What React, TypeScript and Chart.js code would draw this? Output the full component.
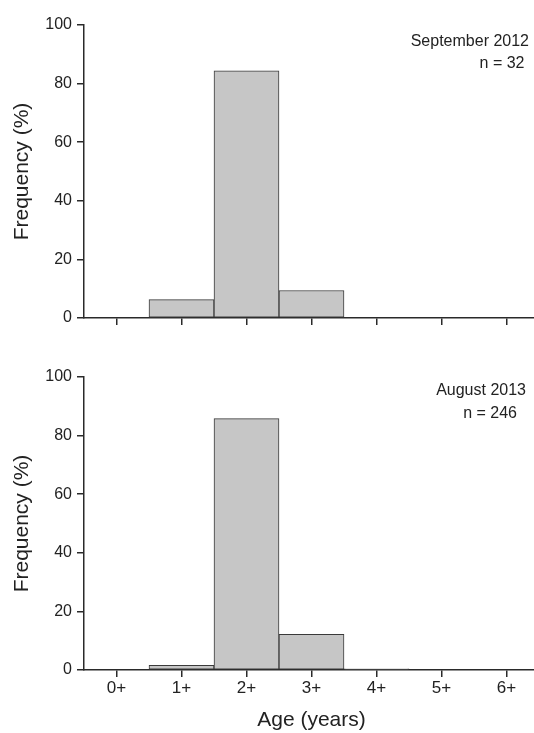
import React, { useEffect, useRef } from 'react';
import { Chart, registerables } from 'chart.js';

Chart.register(...registerables);

// ---------- data ----------
const ageClasses = ['0+', '1+', '2+', '3+', '4+', '5+', '6+'];
const sep2012Freq = [0, 6.25, 84.38, 9.38, 0, 0, 0];
const aug2013Freq = [0, 1.63, 85.77, 12.2, 0.41, 0, 0];
const yTickValues = [0, 20, 40, 60, 80, 100];
const sep2012Note = ['September 2012', 'n = 32'];
const aug2013Note = ['August 2013', 'n = 246'];
const xTitle = 'Age (years)';
const yTitle = 'Frequency (%)';

// ---------- style ----------
const FONT = "'Liberation Sans', Arial, Helvetica, sans-serif";
const TEXT = '#222222';
const AXIS = '#2a2a2a';
const BAR_FILL = '#c6c6c6';
const BAR_EDGE = '#3a3a3a';
const CANVAS_W = 560;

type PanelProps = {
  values: number[];
  note: string[];
  noteX: number[];
  noteY: number[];
  showXLabels: boolean;
  height: number;
  xAxisHeight: number;
  top: number;
};

function Panel({ values, note, noteX, noteY, showXLabels, height, xAxisHeight, top }: PanelProps) {
  const ref = useRef<HTMLCanvasElement | null>(null);

  useEffect(() => {
    if (!ref.current) return;
    const notePlugin = {
      id: 'panelNote',
      afterDraw(chart: any) {
        const ctx = chart.ctx;
        ctx.save();
        ctx.font = `16px ${FONT}`;
        ctx.fillStyle = TEXT;
        ctx.textAlign = 'right';
        ctx.textBaseline = 'middle';
        note.forEach((t, i) => ctx.fillText(t, noteX[i], noteY[i]));
        ctx.restore();
      },
    };

    const chart = new Chart(ref.current, {
      type: 'bar',
      data: {
        datasets: [
          {
            data: values.map((v, i) => ({ x: i, y: v })),
            backgroundColor: BAR_FILL,
            borderColor: BAR_EDGE,
            borderWidth: 1,
            borderSkipped: false,
            barPercentage: 1,
            categoryPercentage: 1,
          } as any,
        ],
      },
      options: {
        responsive: false,
        animation: false,
        events: [],
        layout: { padding: { top: 25, right: CANVAS_W - 539, bottom: 0, left: 0 } },
        plugins: { legend: { display: false }, tooltip: { enabled: false } },
        scales: {
          x: {
            type: 'linear',
            min: -0.5,
            max: 6.5,
            offset: false,
            afterBuildTicks: (s: any) => {
              s.ticks = ageClasses.map((_, i) => ({ value: i }));
            },
            ticks: {
              display: showXLabels,
              autoSkip: false,
              maxRotation: 0,
              padding: 1,
              color: TEXT,
              font: { family: FONT, size: 17 },
              callback: (v: any) => ageClasses[v] ?? '',
            },
            grid: {
              offset: false,
              drawOnChartArea: false,
              drawTicks: true,
              tickLength: 7,
              color: AXIS,
              lineWidth: 1.5,
            },
            border: { display: true, color: AXIS, width: 1.5 },
            title: {
              display: showXLabels,
              text: xTitle,
              color: TEXT,
              font: { family: FONT, size: 21 },
              padding: { top: 0, bottom: 0 },
            },
            afterFit: (s: any) => {
              s.height = xAxisHeight;
            },
          },
          y: {
            min: 0,
            max: 100,
            afterBuildTicks: (s: any) => {
              s.ticks = yTickValues.map((v) => ({ value: v }));
            },
            ticks: {
              padding: 5,
              color: TEXT,
              font: { family: FONT, size: 16 },
            },
            grid: {
              drawOnChartArea: false,
              drawTicks: true,
              tickLength: 7,
              color: AXIS,
              lineWidth: 1.5,
            },
            border: { display: true, color: AXIS, width: 1.5 },
            title: {
              display: true,
              text: yTitle,
              color: TEXT,
              font: { family: FONT, size: 21 },
              padding: { top: 10, bottom: 0 },
            },
            afterFit: (s: any) => {
              s.width = 84;
            },
          },
        },
      } as any,
      plugins: [notePlugin],
    });
    return () => chart.destroy();
  }, []);

  return (
    <canvas
      ref={ref}
      width={CANVAS_W}
      height={height}
      style={{ position: 'absolute', left: 0, top, width: CANVAS_W, height }}
    />
  );
}

export default function App() {
  return (
    <div
      style={{
        position: 'fixed',
        left: 0,
        top: 0,
        width: 534,
        height: 733,
        overflow: 'hidden',
        background: '#ffffff',
      }}
    >
      <Panel
        values={sep2012Freq}
        note={sep2012Note}
        noteX={[529, 524.5]}
        noteY={[42, 64]}
        showXLabels={false}
        height={352}
        xAxisHeight={34}
        top={0}
      />
      <Panel
        values={aug2013Freq}
        note={aug2013Note}
        noteX={[526, 517]}
        noteY={[39, 62]}
        showXLabels={true}
        height={381}
        xAxisHeight={63}
        top={352}
      />
    </div>
  );
}
